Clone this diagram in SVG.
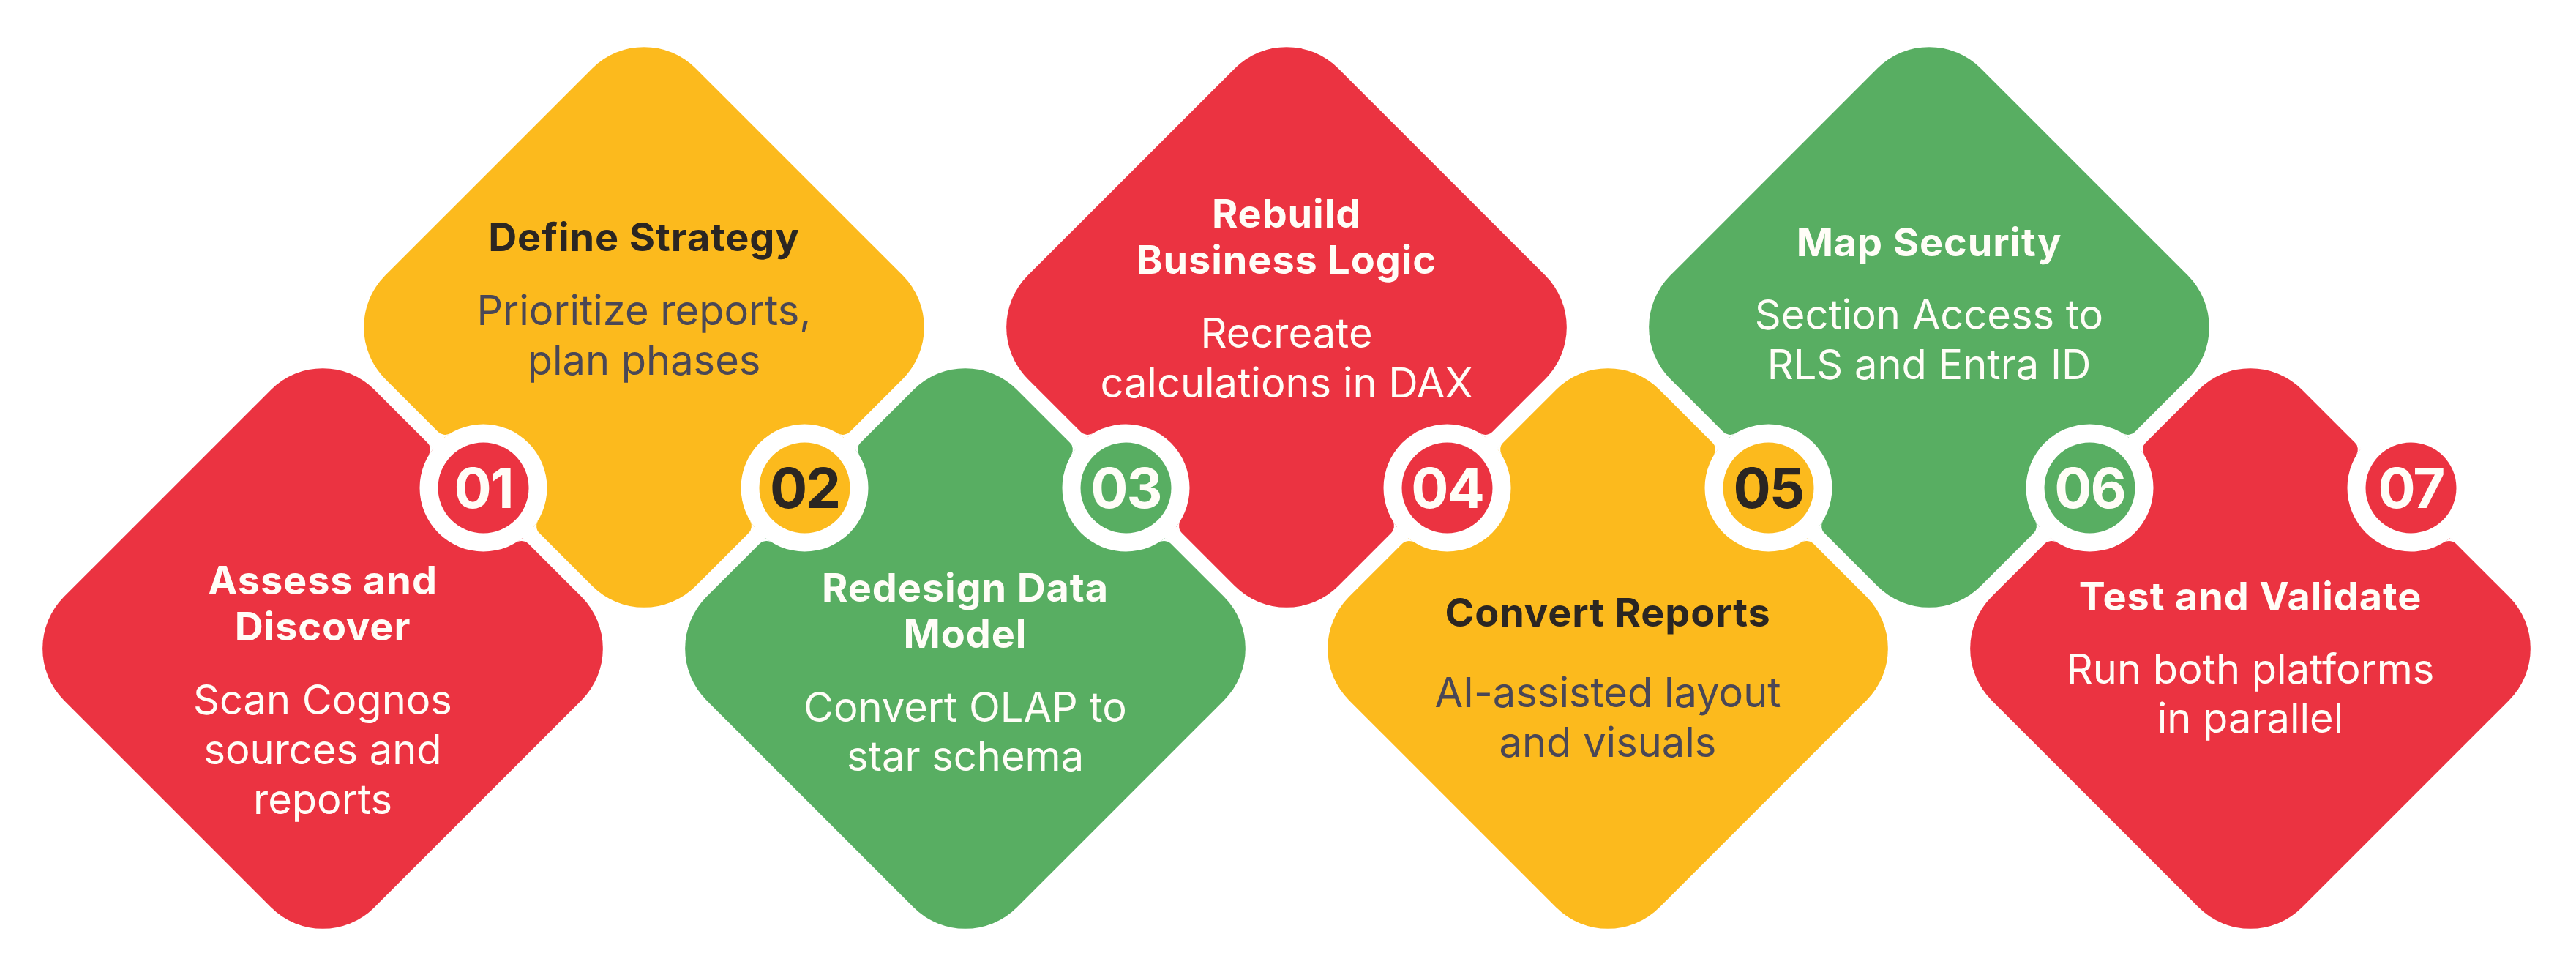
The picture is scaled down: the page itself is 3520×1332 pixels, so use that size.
<svg xmlns="http://www.w3.org/2000/svg" xmlns:xlink="http://www.w3.org/1999/xlink" width="3520" height="1332" viewBox="0 0 3520 1332">
<style>
.red{fill:#EB3341}
.yel{fill:#FCBA1D}
.grn{fill:#58AE62}
.ring{fill:#FFFFFF}
.t{font-family:Inter,"Liberation Sans",sans-serif;font-weight:700;font-size:54px;letter-spacing:0.9px;text-anchor:middle}
.d{font-family:Inter,"Liberation Sans",sans-serif;font-weight:400;font-size:56px;text-anchor:middle}
.n{font-family:Inter,"Liberation Sans",sans-serif;font-weight:700;font-size:76px;text-anchor:middle;letter-spacing:-2px}
.w{fill:#FFFDF7}
.dk{fill:#2B2622}
.gy{fill:#4A4756}
</style>
<defs>
<rect id="dia" x="-300" y="-300" width="600" height="600" rx="100" ry="100"/>
<path id="fil" d="M 98.9 10 L 86.42 10 L 84.35 21.32 A 15 15 0 0 1 98.9 10 Z" fill="#FFFFFF"/>
<g id="cut">
<use xlink:href="#fil"/>
<use xlink:href="#fil" transform="scale(-1,1)"/>
<use xlink:href="#fil" transform="scale(1,-1)"/>
<use xlink:href="#fil" transform="scale(-1,-1)"/>
<circle r="87" class="ring"/>
</g>
</defs>
<rect width="3520" height="1332" fill="#FFFFFF"/>

<g id="node1">
<use xlink:href="#dia" class="red" transform="translate(441,886) rotate(45)"/>
<text class="t w" x="441" y="812">Assess and</text>
<text class="t w" x="441" y="875">Discover</text>
<text class="d w" x="441" y="976">Scan Cognos</text>
<text class="d w" x="441" y="1044">sources and</text>
<text class="d w" x="441" y="1112">reports</text>
</g>
<g id="node2">
<use xlink:href="#dia" class="yel" transform="translate(880,447) rotate(45)"/>
<text class="t dk" x="880" y="343">Define Strategy</text>
<text class="d gy" x="880" y="444">Prioritize reports,</text>
<text class="d gy" x="880" y="512">plan phases</text>
</g>
<g id="node3">
<use xlink:href="#dia" class="grn" transform="translate(1319,886) rotate(45)"/>
<text class="t w" x="1319" y="822">Redesign Data</text>
<text class="t w" x="1319" y="885">Model</text>
<text class="d w" x="1319" y="986">Convert OLAP to</text>
<text class="d w" x="1319" y="1053">star schema</text>
</g>
<g id="node4">
<use xlink:href="#dia" class="red" transform="translate(1758,447) rotate(45)"/>
<text class="t w" x="1758" y="311">Rebuild</text>
<text class="t w" x="1758" y="374">Business Logic</text>
<text class="d w" x="1758" y="475">Recreate</text>
<text class="d w" x="1758" y="543">calculations in DAX</text>
</g>
<g id="node5">
<use xlink:href="#dia" class="yel" transform="translate(2197,886) rotate(45)"/>
<text class="t dk" x="2197" y="856">Convert Reports</text>
<text class="d gy" x="2197" y="966">AI-assisted layout</text>
<text class="d gy" x="2197" y="1034">and visuals</text>
</g>
<g id="node6">
<use xlink:href="#dia" class="grn" transform="translate(2636,447) rotate(45)"/>
<text class="t w" x="2636" y="350">Map Security</text>
<text class="d w" x="2636" y="450">Section Access to</text>
<text class="d w" x="2636" y="518">RLS and Entra ID</text>
</g>
<g id="node7">
<use xlink:href="#dia" class="red" transform="translate(3075,886) rotate(45)"/>
<text class="t w" x="3075" y="834">Test and Validate</text>
<text class="d w" x="3075" y="934">Run both platforms</text>
<text class="d w" x="3075" y="1001">in parallel</text>
</g>

<g id="connectors">
<g id="badge01">
<use xlink:href="#cut" transform="translate(660.5,666.5) rotate(45)"/>
<circle cx="660.5" cy="666.5" r="62" class="red"/>
<text class="n w" x="660.5" y="694">01</text>
</g>
<g id="badge02">
<use xlink:href="#cut" transform="translate(1099.5,666.5) rotate(-45)"/>
<circle cx="1099.5" cy="666.5" r="62" class="yel"/>
<text class="n dk" x="1099.5" y="694">02</text>
</g>
<g id="badge03">
<use xlink:href="#cut" transform="translate(1538.5,666.5) rotate(45)"/>
<circle cx="1538.5" cy="666.5" r="62" class="grn"/>
<text class="n w" x="1538.5" y="694">03</text>
</g>
<g id="badge04">
<use xlink:href="#cut" transform="translate(1977.5,666.5) rotate(-45)"/>
<circle cx="1977.5" cy="666.5" r="62" class="red"/>
<text class="n w" x="1977.5" y="694">04</text>
</g>
<g id="badge05">
<use xlink:href="#cut" transform="translate(2416.5,666.5) rotate(45)"/>
<circle cx="2416.5" cy="666.5" r="62" class="yel"/>
<text class="n dk" x="2416.5" y="694">05</text>
</g>
<g id="badge06">
<use xlink:href="#cut" transform="translate(2855.5,666.5) rotate(-45)"/>
<circle cx="2855.5" cy="666.5" r="62" class="grn"/>
<text class="n w" x="2855.5" y="694">06</text>
</g>
<g id="badge07">
<use xlink:href="#cut" transform="translate(3294.5,666.5) rotate(45)"/>
<circle cx="3294.5" cy="666.5" r="62" class="red"/>
<text class="n w" x="3294.5" y="694">07</text>
</g>
</g>
</svg>
